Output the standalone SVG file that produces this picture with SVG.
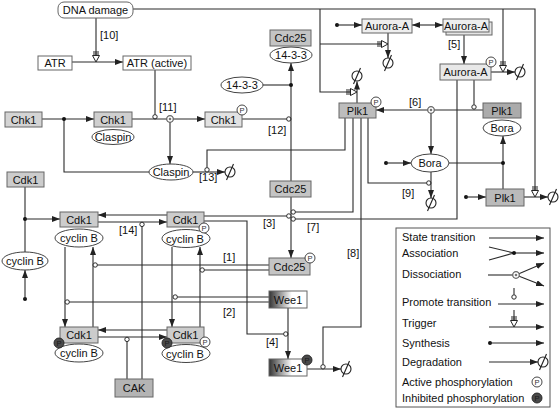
<svg xmlns="http://www.w3.org/2000/svg" width="559" height="410" viewBox="0 0 559 410">
<style>
.t{font-family:"Liberation Sans",Arial,Helvetica,sans-serif;font-size:11px;fill:#111;text-anchor:middle}
.l{font-family:"Liberation Sans",Arial,Helvetica,sans-serif;font-size:11px;fill:#111}
.b{stroke:#666;stroke-width:1}
.e{fill:#fff;stroke:#444;stroke-width:1}
.c{fill:none;stroke:#2a2a2a;stroke-width:1.1}
.a{marker-end:url(#ah)}
.pr{fill:#fff;stroke:#2a2a2a;stroke-width:1}
.dot{fill:#111}
.pc{fill:#fff;stroke:#333;stroke-width:0.9}
.pd{fill:#4a4a4a;stroke:#222;stroke-width:0.9}
.pt{font-family:"Liberation Sans",Arial,sans-serif;font-size:7.5px;text-anchor:middle;fill:#333}
.ptd{font-family:"Liberation Sans",Arial,sans-serif;font-size:7.5px;text-anchor:middle;fill:#1a1a1a}
</style>
<defs>
<marker id="ah" viewBox="0 0 8 6" refX="8" refY="3" markerWidth="8" markerHeight="6" markerUnits="userSpaceOnUse" orient="auto-start-reverse"><path d="M0,0 L8,3 L0,6 z" fill="#222"/></marker>
<g id="deg"><circle r="5" fill="none" stroke="#222" stroke-width="1.1"/><line x1="-3.5" y1="8" x2="3.5" y2="-8" stroke="#222" stroke-width="1.1"/></g>
<g id="trig"><path d="M-3,-10H3M-3,-8H3" stroke="#222" stroke-width="1" fill="none"/><path d="M-3.5,-6.5H3.5L0,0Z" fill="#fff" stroke="#222" stroke-width="1"/></g>
<g id="dis"><circle r="3.3" fill="#fff" stroke="#666" stroke-width="1.3"/><circle r="1.3" fill="#777"/></g>
<linearGradient id="wg" x1="0" y1="0" x2="1" y2="0"><stop offset="0" stop-color="#333"/><stop offset="0.6" stop-color="#fff"/></linearGradient>
</defs>

<g id="connectors">
<path class="c" d="M133,9 H535 V190.5"/>
<use href="#trig" transform="translate(535,197)"/>
<path class="c" d="M503,9 V65.5"/>
<use href="#trig" transform="translate(503,72)"/>
<path class="c" d="M320,9 V92 H350.5 M320,44 H381.5"/>
<use href="#trig" transform="translate(388,44) rotate(-90)"/>
<use href="#trig" transform="translate(357,92) rotate(-90)"/>
<path class="c" d="M96,18 V55.5"/>
<path class="c a" d="M72,62 H123"/>
<use href="#trig" transform="translate(96,62)"/>
<path class="c" d="M155,70 V114.6"/>
<circle class="pr" cx="155" cy="116.8" r="2.2"/>
<path class="c a" d="M42,119 H94"/>
<path class="c" d="M64,119 V172 H149"/>
<circle class="dot" cx="64" cy="119" r="2"/>
<path class="c a" d="M132,119 H205"/>
<path class="c a" d="M170,122 V164"/>
<use href="#dis" x="170" y="119"/>
<path class="c a" d="M193,172 H225"/>
<use href="#deg" x="230" y="172"/>
<path class="c" d="M345,118 V150 H207 V167.6"/>
<circle class="pr" cx="207" cy="169.8" r="2.2"/>
<path class="c" d="M242,119 H286.6"/>
<circle class="pr" cx="288.8" cy="119" r="2.2"/>
<path class="c" d="M263,85 H291"/>
<path class="c a" d="M291,181 V63"/>
<circle class="dot" cx="291" cy="85" r="2"/>
<path class="c a" d="M291,197 V258"/>
<path class="c" d="M204,216 H286.6"/>
<circle class="pr" cx="288.8" cy="216" r="2.2"/>
<path class="c" d="M353,118 V212 H295.4"/>
<circle class="pr" cx="293.2" cy="212" r="2.2"/>
<path class="c" d="M457,80 V219 H295.4"/>
<circle class="pr" cx="293.2" cy="219" r="2.2"/>
<path class="c" d="M204,221 H247 V334 H283.6"/>
<circle class="pr" cx="285.8" cy="334" r="2.2"/>
<path class="c a" d="M288,308 V359"/>
<path class="c a" d="M307,369 H341"/>
<use href="#deg" x="346" y="369"/>
<path class="c" d="M361,118 V327 H323 V364.6"/>
<circle class="pr" cx="323" cy="366.8" r="2.2"/>
<path class="c" d="M368,118 V183 H426.6"/>
<circle class="pr" cx="428.8" cy="183" r="2.2"/>
<path class="c a" d="M431,172 V198"/>
<use href="#deg" x="431" y="203"/>
<path class="c a" d="M357,103 V81.5"/>
<use href="#deg" x="357" y="76"/>
<path class="c a" d="M388,33 V58"/>
<use href="#deg" x="388" y="63"/>
<circle class="dot" cx="337" cy="25" r="2"/>
<path class="c a" d="M337,25 H362"/>
<path class="c a" d="M412,25 H443" marker-start="url(#ah)"/>
<path class="c a" d="M464,35 V64"/>
<path class="c a" d="M491,72 H515"/>
<use href="#deg" x="520" y="72"/>
<path class="c" d="M474,80 V104.8"/>
<circle class="pr" cx="474" cy="107" r="2.2"/>
<path class="c a" d="M483,110 H376"/>
<path class="c a" d="M431,113 V154"/>
<use href="#dis" x="431" y="110"/>
<circle class="dot" cx="386" cy="163" r="2"/>
<path class="c a" d="M386,163 H411"/>
<path class="c" d="M449,163 H503"/>
<path class="c a" d="M503,189 V136"/>
<circle class="dot" cx="503" cy="163" r="2"/>
<circle class="dot" cx="466" cy="197" r="2"/>
<path class="c a" d="M466,197 H486"/>
<path class="c a" d="M524,197 H548"/>
<use href="#deg" x="553" y="197"/>
<path class="c" d="M25,187 V252"/>
<circle class="dot" cx="25" cy="219" r="2"/>
<path class="c a" d="M25,219 H60"/>
<circle class="dot" cx="25" cy="299" r="2"/>
<path class="c a" d="M25,299 V270"/>
<path class="c a" d="M167,215 H98"/>
<path class="c a" d="M98,222 H167"/>
<path class="c" d="M142,379 V226.6"/>
<circle class="pr" cx="142" cy="224.4" r="2.2"/>
<path class="c a" d="M167,330 H98"/>
<path class="c a" d="M98,337 H167"/>
<path class="c" d="M127,379 V341.6"/>
<circle class="pr" cx="127" cy="339.4" r="2.2"/>
<path class="c a" d="M65,247 V327"/>
<path class="c a" d="M93,327 V247"/>
<path class="c a" d="M172,247 V327"/>
<path class="c a" d="M200,327 V247"/>
<path class="c" d="M269,265 H97.4"/>
<circle class="pr" cx="95.2" cy="265" r="2.2"/>
<path class="c" d="M269,270 H204.4"/>
<circle class="pr" cx="202.2" cy="270" r="2.2"/>
<path class="c" d="M269,297 H177.4"/>
<circle class="pr" cx="175.2" cy="297" r="2.2"/>
<path class="c" d="M269,302 H69.4"/>
<circle class="pr" cx="67.2" cy="302" r="2.2"/>
</g>

<g id="labels">
<text class="l" x="100" y="39">[10]</text>
<text class="l" x="159" y="111">[11]</text>
<text class="l" x="268" y="134">[12]</text>
<text class="l" x="199" y="181">[13]</text>
<text class="l" x="119" y="234">[14]</text>
<text class="l" x="223" y="261">[1]</text>
<text class="l" x="223" y="316">[2]</text>
<text class="l" x="263" y="227">[3]</text>
<text class="l" x="266" y="346">[4]</text>
<text class="l" x="448" y="48">[5]</text>
<text class="l" x="409" y="106">[6]</text>
<text class="l" x="307" y="231">[7]</text>
<text class="l" x="347" y="257">[8]</text>
<text class="l" x="402" y="197">[9]</text>
</g>

<g id="n-dna"><rect class="b" x="58" y="2" width="75" height="16" rx="6" fill="#fff"/><text class="t" x="95.5" y="14">DNA damage</text></g>
<g id="n-atr"><rect class="b" x="38" y="56" width="34" height="14" fill="#fff"/><text class="t" x="55" y="67">ATR</text></g>
<g id="n-atr-active"><rect class="b" x="123" y="56" width="68" height="14" fill="#fff"/><text class="t" x="157" y="67">ATR (active)</text></g>
<g id="n-chk1"><rect class="b" x="5" y="112" width="37" height="15" fill="#d4d4d4"/><text class="t" x="23.5" y="123.5">Chk1</text></g>
<g id="n-chk1-claspin"><rect class="b" x="94" y="112" width="38" height="15" fill="#cfcfcf"/><text class="t" x="113" y="123.5">Chk1</text><ellipse class="e" cx="113" cy="137" rx="21" ry="7.5"/><text class="t" x="113" y="141">Claspin</text></g>
<g id="n-chk1-p"><rect class="b" x="205" y="112" width="37" height="15" fill="#e2e2e2"/><text class="t" x="223.5" y="123.5">Chk1</text><circle class="pc" cx="242" cy="110" r="5"/><text class="pt" x="242" y="112.7">P</text></g>
<g id="n-claspin"><ellipse class="e" cx="171" cy="172" rx="22" ry="8"/><text class="t" x="171" y="176">Claspin</text></g>
<g id="n-1433"><ellipse class="e" cx="242" cy="85" rx="21" ry="8"/><text class="t" x="242" y="89">14-3-3</text></g>
<g id="n-cdc25-1433"><rect class="b" x="270" y="30" width="41" height="16" fill="#c4c4c4"/><text class="t" x="290.5" y="42">Cdc25</text><ellipse class="e" cx="291" cy="55" rx="21" ry="8"/><text class="t" x="291" y="59">14-3-3</text></g>
<g id="n-cdc25"><rect class="b" x="270" y="181" width="41" height="16" fill="#c4c4c4"/><text class="t" x="290.5" y="193">Cdc25</text></g>
<g id="n-cdc25-p"><rect class="b" x="269" y="258" width="41" height="17" fill="#c4c4c4"/><text class="t" x="289.5" y="270.5">Cdc25</text><circle class="pc" cx="310" cy="258" r="5"/><text class="pt" x="310" y="260.7">P</text></g>
<g id="n-wee1"><rect class="b" x="269" y="291" width="38" height="17" fill="url(#wg)"/><text class="t" x="288" y="303.5">Wee1</text></g>
<g id="n-wee1-p"><rect class="b" x="269" y="359" width="38" height="17" fill="url(#wg)"/><text class="t" x="288" y="371.5">Wee1</text><circle class="pd" cx="307" cy="360" r="5"/><text class="ptd" x="307" y="362.7">P</text></g>
<g id="n-cdk1"><rect class="b" x="7" y="172" width="37" height="15" fill="#cccccc"/><text class="t" x="25.5" y="183.5">Cdk1</text></g>
<g id="n-cyclinb"><ellipse class="e" cx="25" cy="261" rx="23" ry="9"/><text class="t" x="25" y="265">cyclin B</text></g>
<g id="n-c1"><rect class="b" x="60" y="212" width="38" height="15" fill="#cccccc"/><text class="t" x="79" y="223.5">Cdk1</text><ellipse class="e" cx="79" cy="238" rx="24" ry="9"/><text class="t" x="79" y="242">cyclin B</text></g>
<g id="n-c2"><rect class="b" x="167" y="212" width="37" height="15" fill="#cccccc"/><text class="t" x="185.5" y="223.5">Cdk1</text><ellipse class="e" cx="186" cy="238.5" rx="24" ry="9"/><text class="t" x="185" y="243">cyclin B</text><circle class="pc" cx="204" cy="228" r="5"/><text class="pt" x="204" y="230.7">P</text></g>
<g id="n-c3"><rect class="b" x="60" y="327" width="38" height="16" fill="#cccccc"/><text class="t" x="79" y="339">Cdk1</text><ellipse class="e" cx="79" cy="353" rx="24" ry="9"/><text class="t" x="79" y="357">cyclin B</text><circle class="pd" cx="59" cy="343" r="5"/><text class="ptd" x="59" y="345.7">P</text></g>
<g id="n-c4"><rect class="b" x="167" y="327" width="37" height="16" fill="#cccccc"/><text class="t" x="185.5" y="339">Cdk1</text><ellipse class="e" cx="186" cy="353.5" rx="24" ry="9"/><text class="t" x="185" y="358">cyclin B</text><circle class="pd" cx="167" cy="343" r="5"/><text class="ptd" x="167" y="345.7">P</text><circle class="pc" cx="205" cy="342" r="5"/><text class="pt" x="205" y="344.7">P</text></g>
<g id="n-cak"><rect class="b" x="115" y="379" width="38" height="18" fill="#b4b4b4"/><text class="t" x="134" y="392">CAK</text></g>
<g id="n-aurora"><rect class="b" x="362" y="19" width="50" height="14" fill="#eeeeee"/><text class="t" x="387" y="30">Aurora-A</text></g>
<g id="n-aurora-multi"><rect class="b" x="446" y="22" width="46" height="13" fill="#e4e4e4"/><rect class="b" x="443" y="19" width="46" height="13" fill="#eeeeee"/><text class="t" x="466" y="30">Aurora-A</text></g>
<g id="n-aurora-p"><rect class="b" x="440" y="64" width="51" height="16" fill="#e8e8e8"/><text class="t" x="465.5" y="76">Aurora-A</text><circle class="pc" cx="491" cy="62" r="5"/><text class="pt" x="491" y="64.7">P</text></g>
<g id="n-plk1-p"><rect class="b" x="339" y="103" width="37" height="15" fill="#bdbdbd"/><text class="t" x="357.5" y="114.5">Plk1</text><circle class="pc" cx="376" cy="102" r="5"/><text class="pt" x="376" y="104.7">P</text></g>
<g id="n-plk1-bora"><rect class="b" x="483" y="103" width="38" height="15" fill="#ababab"/><text class="t" x="502" y="114.5">Plk1</text><ellipse class="e" cx="502" cy="128" rx="19" ry="8"/><text class="t" x="502" y="132">Bora</text></g>
<g id="n-bora"><ellipse class="e" cx="430" cy="163" rx="19" ry="9"/><text class="t" x="430" y="167">Bora</text></g>
<g id="n-plk1"><rect class="b" x="486" y="189" width="38" height="17" fill="#bababa"/><text class="t" x="505" y="202">Plk1</text></g>

<g id="legend">
<rect x="396" y="228" width="154" height="179" fill="#fff" stroke="#555" stroke-width="1"/>
<text class="l" x="402" y="241">State transition</text>
<path class="c a" d="M489,238 H544"/>
<text class="l" x="402" y="257">Association</text>
<path class="c" d="M489,247 L514,253 M489,260 L514,253"/>
<path class="c a" d="M514,253 H544"/>
<circle class="dot" cx="514" cy="253" r="2"/>
<text class="l" x="402" y="278">Dissociation</text>
<path class="c" d="M488,275 H516"/>
<path class="c a" d="M516,275 L544,263"/>
<path class="c a" d="M516,275 L544,286"/>
<use href="#dis" x="516" y="275"/>
<text class="l" x="402" y="306">Promote transition</text>
<path class="c a" d="M498,304 H544"/>
<path class="c" d="M514,288 V294.8"/>
<circle class="pr" cx="514" cy="297" r="2.2"/>
<text class="l" x="402" y="327">Trigger</text>
<path class="c" d="M514,310 V320.5"/>
<path class="c a" d="M489,327 H544"/>
<use href="#trig" transform="translate(514,327)"/>
<text class="l" x="402" y="347">Synthesis</text>
<circle class="dot" cx="490" cy="343" r="2"/>
<path class="c a" d="M490,343 H544"/>
<text class="l" x="402" y="366">Degradation</text>
<path class="c a" d="M489,362 H538"/>
<use href="#deg" x="543" y="362"/>
<text class="l" x="402" y="386">Active phosphorylation</text>
<circle class="pc" cx="537" cy="382" r="5"/><text class="pt" x="537" y="384.7">P</text>
<text class="l" x="402" y="402">Inhibited phosphorylation</text>
<circle class="pd" cx="537" cy="398" r="5"/><text class="ptd" x="537" y="400.7">P</text>
</g>
</svg>
